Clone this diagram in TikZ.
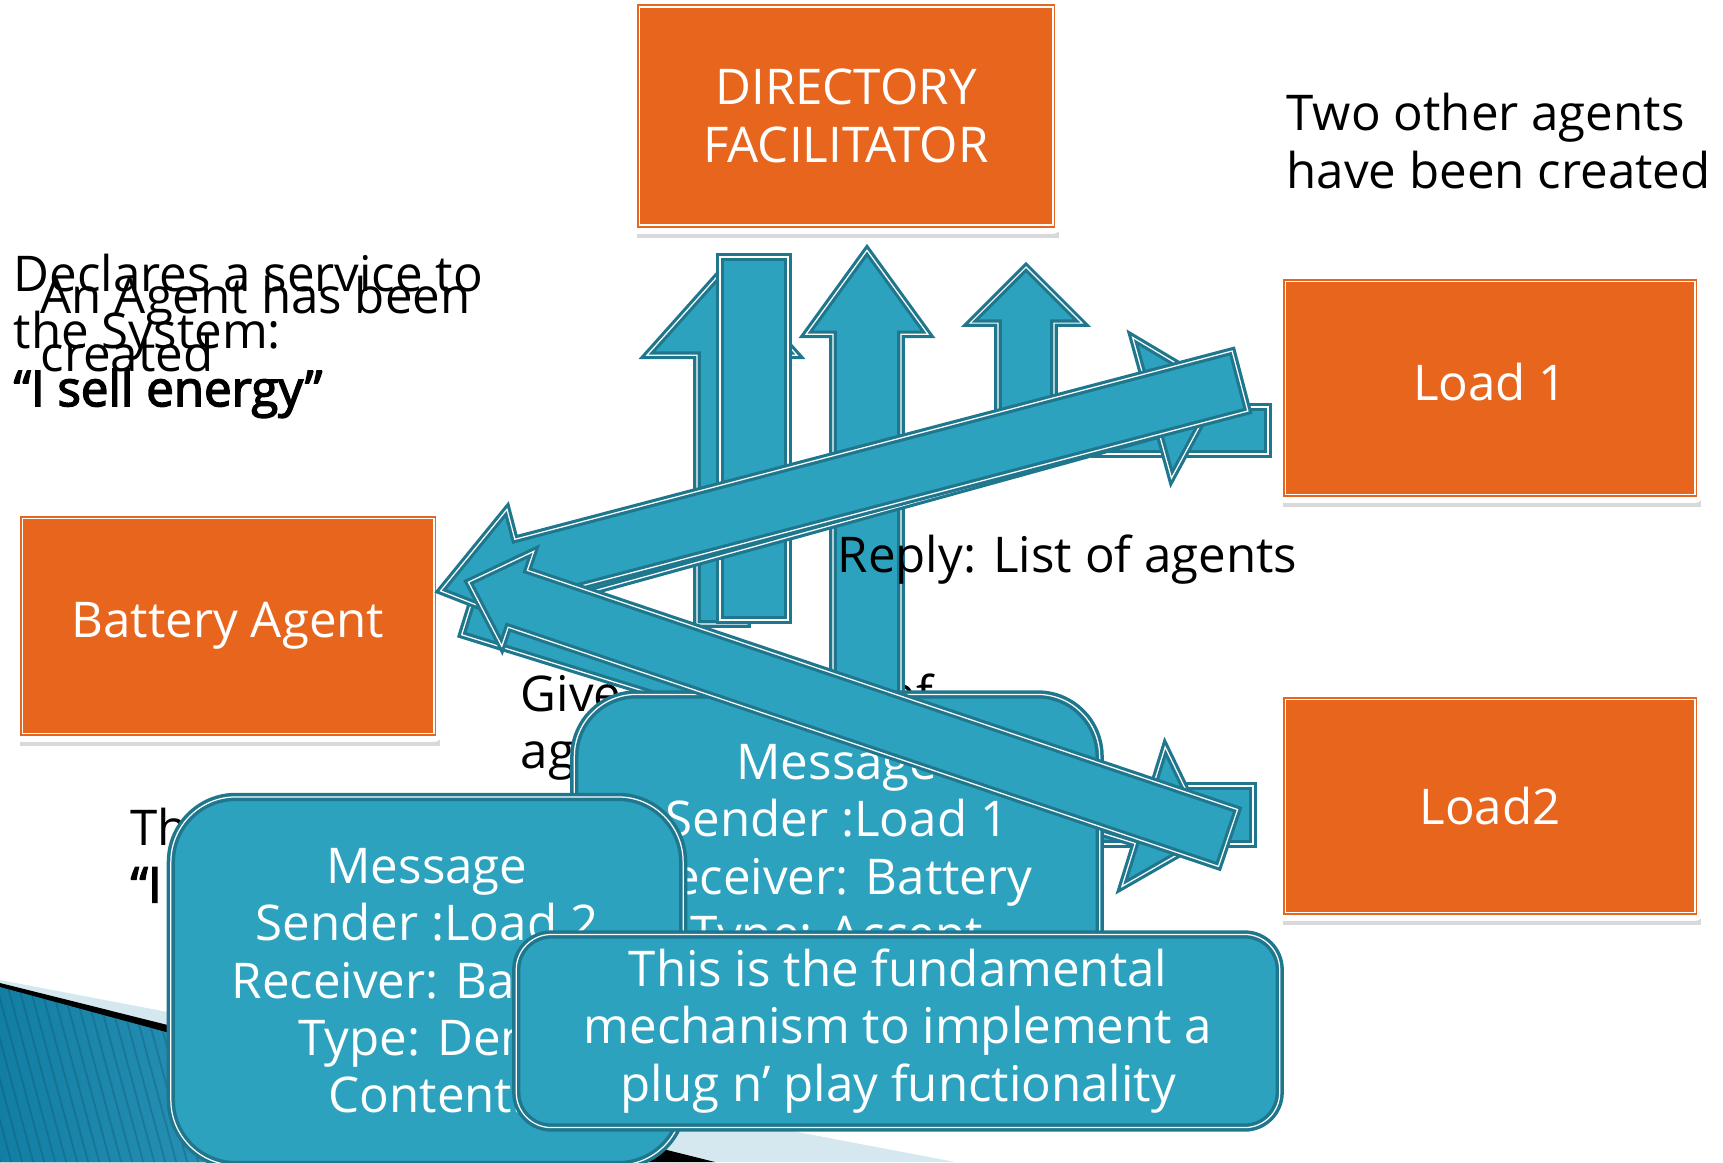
\documentclass[tikz,border=0pt]{standalone}
\usepackage{fontspec}
\setmainfont{Open Sans}
\newfontfamily\quotefont[FakeBold=3]{Open Sans}
\usetikzlibrary{shapes,shadows,positioning}
\usetikzlibrary{calc}

\definecolor{boxorange}{HTML}{E8651E}
\definecolor{arrowteal}{HTML}{2CA2BF}
\definecolor{arrowedge}{HTML}{1F778D}
\definecolor{palestrip}{HTML}{D5E8F0}
\definecolor{chevdark}{HTML}{127EA3}
\definecolor{chevlight}{HTML}{5BBCDD}

\tikzset{
  agentbox/.style={fill=boxorange, draw=boxorange, line width=0.45pt, double=white,
    double distance=0.5pt, text=white, align=center, inner sep=0pt,
    drop shadow={shadow xshift=0.6pt, shadow yshift=-3pt, shadow scale=1.02,
      fill=black, opacity=0.15},
    preaction={draw=white, line width=5pt, line join=round}},
  msgbox/.style={fill=arrowteal, draw=arrowedge, line width=1pt, double=white,
    double distance=0.35pt, text=white, align=center, inner sep=0pt},
  blockarrow/.style={fill=arrowteal, draw=arrowedge, line width=0.9pt, double=white,
    double distance=0.35pt},
  slidetext/.style={align=left, anchor=west, inner sep=0pt}
}

% from, to, half shaft, half head, head length (in px)
\newcommand{\blockarrow}[5]{%
  \pgfmathanglebetweenpoints{\pgfpointanchor{#1}{center}}{\pgfpointanchor{#2}{center}}%
  \let\arrowangle\pgfmathresult
  \pgfpointdiff{\pgfpointanchor{#1}{center}}{\pgfpointanchor{#2}{center}}%
  \pgfgetlastxy{\arrowdx}{\arrowdy}%
  \pgfmathsetmacro{\arrowlen}{veclen(\arrowdx,\arrowdy)/0.28453}%
  \begin{scope}[shift={(#1)}, rotate=\arrowangle, x=0.01cm, y=0.01cm]
    \draw[blockarrow] (0,-#3) -- ({\arrowlen-#5},-#3) -- ({\arrowlen-#5},-#4)
      -- (\arrowlen,0) -- ({\arrowlen-#5},#4) -- ({\arrowlen-#5},#3) -- (0,#3) -- cycle;
  \end{scope}}

\begin{document}
\begin{tikzpicture}[x=0.01cm, y=-0.01cm, font=\fontsize{14pt}{16.3pt}\selectfont]

\clip (0,0) rectangle (1723,1162);

\fill[palestrip] (0,980) -- (955,1162) -- (0,1162) -- cycle;
\fill[black] (0,983) -- (715,1162) -- (0,1162) -- cycle;
\begin{scope}
  \clip (0,987) -- (645,1162) -- (0,1162) -- cycle;
  \fill[left color=chevdark, right color=chevlight] (0,980) rectangle (700,1162);
  \foreach \x in {-60,-49,...,700}
    {\draw[chevdark!60!black, opacity=0.3, line width=0.5pt] (\x,980) -- ++(50,185);}
\end{scope}

\node[slidetext] (declares) at (13,336) {Declares a service to\\the System:\\{\quotefont “I sell energy”}};
\node[slidetext] (created) at (40,324) {An Agent has been\\created};
\node[slidetext] (others) at (1286,141) {Two other agents\\have been created};
\node[slidetext] (gives) at (520,727) {Give me the list of\\agents selling energy};
\node[slidetext] (they) at (130,861) {They declare:\\{\quotefont “I need energy”}};

\node[agentbox, minimum width=4.13cm, minimum height=2.18cm] (df) at (846,116) {DIRECTORY\\FACILITATOR};
\node[agentbox, minimum width=4.11cm, minimum height=2.15cm] (battery) at (228,626) {Battery Agent};
\node[agentbox, minimum width=4.09cm, minimum height=2.13cm, text depth=0.12cm] (load1) at (1490,388) {Load 1};
\node[agentbox, minimum width=4.09cm, minimum height=2.13cm] (load2) at (1490,806) {Load2};

\coordinate (upAs) at (722,624);   \coordinate (upAt) at (722,271);
\coordinate (upBs) at (867,760);   \coordinate (upBt) at (867,250);
\coordinate (upCs) at (1026,440);  \coordinate (upCt) at (1026,267);
\coordinate (toL1s) at (470,596);  \coordinate (toL1t) at (1220,389);
\coordinate (toL2s) at (470,608);  \coordinate (toL2t) at (1209,837);
\coordinate (fromL1s) at (1240,381); \coordinate (fromL1t) at (440,591);
\coordinate (fromL2s) at (1228,838); \coordinate (fromL2t) at (468,582);

\blockarrow{upAs}{upAt}{25}{75}{84}
\draw[blockarrow] (720,257) rectangle (788,620);
\blockarrow{upBs}{upBt}{34}{61}{84}
\blockarrow{upCs}{upCt}{28}{56}{56}

\draw[blockarrow] (1095,407) rectangle (1268,454);
\draw[blockarrow] (1095,786) rectangle (1253,844);

\blockarrow{toL1s}{toL1t}{28}{73}{70}
\blockarrow{toL2s}{toL2t}{28}{73}{68}
\blockarrow{fromL1s}{fromL1t}{31}{62}{85}

\node[msgbox, rounded corners=0.62cm, minimum width=5.25cm, minimum height=3.65cm] (msg1) at (837,877)
  {Message\\Sender :Load 1\\Receiver: Battery\\Type: Accept\\Content:};

\blockarrow{fromL2s}{fromL2t}{30}{50}{52}

\node[slidetext] (reply) at (837,560) {Reply: List of agents};

\node[msgbox, rounded corners=0.65cm, minimum width=5.12cm, minimum height=3.68cm] (msg2) at (427,981)
  {Message\\Sender :Load 2\\Receiver: Battery\\Type: Deny\\Content:};

\node[msgbox, rounded corners=0.35cm, minimum width=7.63cm, minimum height=1.93cm] (note) at (898,1031)
  {This is the fundamental\\mechanism to implement a\\plug n’ play functionality};

\end{tikzpicture}
\end{document}
